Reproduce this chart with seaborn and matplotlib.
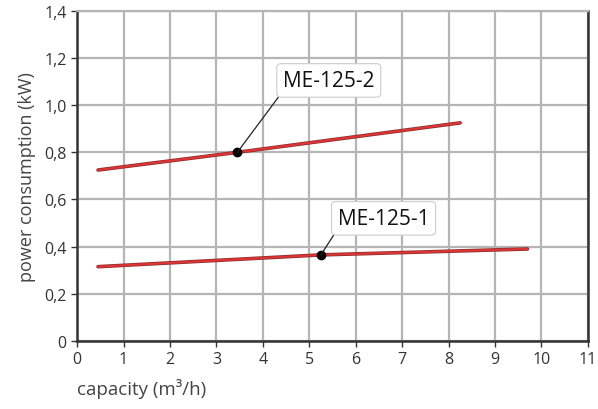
import matplotlib
matplotlib.use("Agg")
import matplotlib.pyplot as plt
import seaborn as sns
import pandas as pd

# curve data
capacity_2 = [0.45, 3.45, 8.25]
power_2 = [0.725, 0.80, 0.925]
capacity_1 = [0.45, 5.25, 9.7]
power_1 = [0.315, 0.365, 0.39]
models = ["ME-125-2", "ME-125-1"]
marked_points = [(3.45, 0.80), (5.25, 0.365)]
label_positions = [(5.42, 1.105), (6.6, 0.52)]

x_ticks = list(range(0, 12))
y_ticks = [0, 0.2, 0.4, 0.6, 0.8, 1.0, 1.2, 1.4]
y_tick_labels = ["0", "0,2", "0,4", "0,6", "0,8", "1,0", "1,2", "1,4"]

df = pd.concat([
    pd.DataFrame({"capacity": capacity_2, "power": power_2, "model": models[0]}),
    pd.DataFrame({"capacity": capacity_1, "power": power_1, "model": models[1]}),
])

sns.set_style("white")
plt.rcParams["font.family"] = ["Open Sans", "DejaVu Sans"]

fig, ax = plt.subplots(figsize=(5.98, 4.10), dpi=100)
fig.subplots_adjust(left=0.129, right=0.983, top=0.971, bottom=0.166)

# dark outline under the red curves
sns.lineplot(data=df, x="capacity", y="power", units="model", estimator=None,
             color="#8a3030", linewidth=2.6, ax=ax, legend=False, zorder=3)
sns.lineplot(data=df, x="capacity", y="power", units="model", estimator=None,
             color="#e03434", linewidth=1.5, ax=ax, legend=False, zorder=4)

for (px, py), (lx, ly), name in zip(marked_points, label_positions, models):
    ax.plot(px, py, "o", color="black", markersize=6, zorder=6)
    ax.annotate(name, xy=(px, py), xytext=(lx, ly), ha="center", va="center",
                fontsize=15, color="#111111", zorder=7,
                bbox=dict(boxstyle="round,pad=0.3,rounding_size=0.2",
                          fc="white", ec="#cccccc", lw=0.8),
                arrowprops=dict(arrowstyle="-", color="#222222", lw=0.9,
                                shrinkA=0, shrinkB=0, relpos=(0.0, 0.0)))

ax.set_xlim(0, 11)
ax.set_ylim(0, 1.4)
ax.set_xticks(x_ticks)
ax.set_yticks(y_ticks)
ax.set_yticklabels(y_tick_labels)
ax.grid(True, color="#b5b5b5", linewidth=1.6)
ax.set_axisbelow(True)

for side in ["left", "bottom", "right"]:
    ax.spines[side].set_visible(True)
    ax.spines[side].set_color("#333333")
    ax.spines[side].set_linewidth(1.8)
ax.spines["top"].set_visible(True)
ax.spines["top"].set_color("#b5b5b5")
ax.spines["top"].set_linewidth(1.6)

ax.tick_params(axis="both", direction="out", length=4, width=1, color="#333333",
               labelsize=11.5, labelcolor="#333333", left=True, bottom=True)

ax.set_xlabel("capacity (m³/h)", fontsize=13.5, color="#444444", loc="left",
              labelpad=8)
ax.set_ylabel("power consumption (kW)", fontsize=13, color="#444444", labelpad=6)

plt.savefig("out.png", dpi=100)
plt.close()
